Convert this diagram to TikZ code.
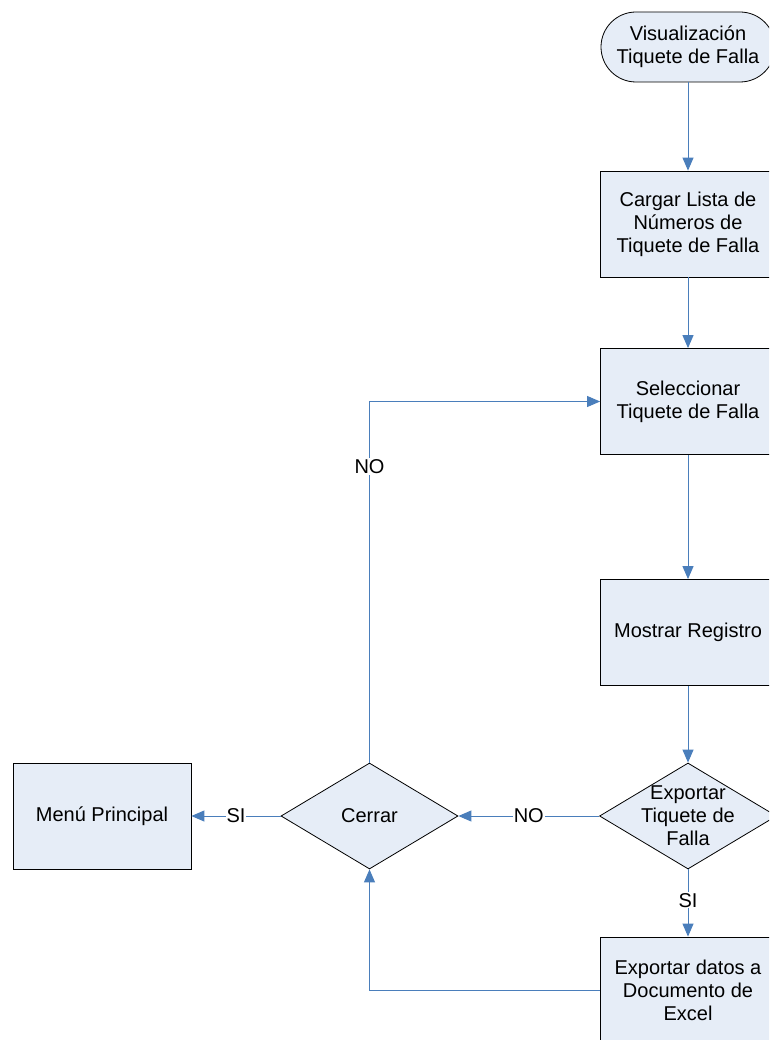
\documentclass[tikz,border=0pt]{standalone}
\usepackage{fontspec}
\setmainfont{Liberation Sans}
\usetikzlibrary{shapes.geometric,arrows.meta}
\definecolor{boxfill}{HTML}{E6EDF7}
\definecolor{linkblue}{HTML}{4A7EBB}
\begin{document}
\begin{tikzpicture}[x=1pt,y=-1pt,
  every node/.style={font=\fontsize{20}{23}\selectfont},
  procbox/.style={draw=black,line width=0.8pt,fill=boxfill,minimum width=175pt,minimum height=106pt,align=center,inner sep=0pt},
  termbox/.style={draw=black,line width=0.8pt,fill=boxfill,minimum width=174pt,minimum height=70pt,rounded corners=35pt,align=center,inner sep=0pt},
  decbox/.style={draw=black,line width=0.8pt,fill=boxfill,diamond,minimum width=177pt,minimum height=106pt,inner sep=0pt},
  link/.style={draw=linkblue,line width=1pt,-{Triangle[length=13pt,width=11pt]}},
  lbl/.style={fill=white,inner sep=1pt}]
\useasboundingbox (0,0) rectangle (769,1040);
\clip (0,0) rectangle (769,1040);
\node[termbox] (term) at (688,47) {Visualización\\Tiquete de Falla};
\node[procbox] (cargar) at (688,224) {Cargar Lista de\\Números de\\Tiquete de Falla};
\node[procbox] (selec) at (688,401.5) {Seleccionar\\Tiquete de Falla};
\node[procbox] (mostrar) at (688,632.5) {Mostrar Registro};
\node[decbox,label={[align=center,font=\fontsize{20}{23}\selectfont]center:Exportar\\Tiquete de\\Falla}] (export) at (688,816) {};
\node[procbox] (exdatos) at (688,990) {Exportar datos a\\Documento de\\Excel};
\node[decbox,label={[font=\fontsize{20}{23}\selectfont]center:Cerrar}] (cerrar) at (369.5,816) {};
\node[procbox,minimum width=178pt] (menu) at (102,816) {Menú Principal};
\draw[link] (term) -- (cargar);
\draw[link] (cargar) -- (selec);
\draw[link] (selec) -- (mostrar);
\draw[link] (mostrar) -- (export);
\draw[link] (export.west) -- node[lbl]{NO} (cerrar.east);
\draw[link] (export.south) -- node[lbl,pos=0.46]{SI} (exdatos.north);
\draw[link] (cerrar.west) -- node[lbl]{SI} (menu.east);
\draw[link] (cerrar.north) |- node[lbl,pos=0.41]{NO} (selec.west);
\draw[link] (exdatos.west) -| (cerrar.south);
\end{tikzpicture}
\end{document}
